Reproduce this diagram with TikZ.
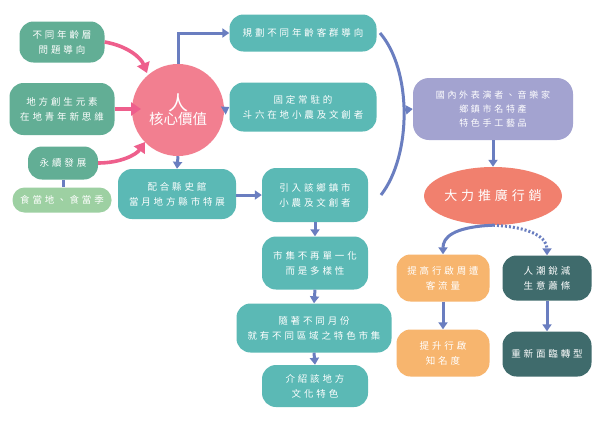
\documentclass[tikz,border=0pt]{standalone}
\usepackage{fontspec}
\setmainfont{Noto Sans CJK TC}
\newfontfamily\cjk[LetterSpace=30]{Noto Sans CJK TC}
\newfontfamily\cjkplain{Noto Sans CJK TC}
\usetikzlibrary{arrows.meta,shapes.geometric}
\definecolor{cgreen}{HTML}{62AE95}
\definecolor{clight}{HTML}{9DD0A2}
\definecolor{cteal}{HTML}{5BB9B5}
\definecolor{cpurple}{HTML}{A3A3D0}
\definecolor{cpink}{HTML}{F27F90}
\definecolor{csalmon}{HTML}{F1806E}
\definecolor{corange}{HTML}{F7B56E}
\definecolor{cdark}{HTML}{3F6B6C}
\definecolor{cblue}{HTML}{6A7EC0}
\definecolor{cpinkarrow}{HTML}{EE5F8C}
\tikzset{
  box/.style={rounded corners=14pt, text=white, align=center, inner sep=0pt,
    font=\cjk\fontsize{9.5}{15}\selectfont},
  greenbox/.style={box, fill=cgreen},
  lightbox/.style={box, fill=clight},
  tealbox/.style={box, fill=cteal},
  purplebox/.style={box, fill=cpurple, font=\cjk\fontsize{9}{14}\selectfont},
  orangebox/.style={box, fill=corange},
  darkbox/.style={box, fill=cdark},
  barrow/.style={draw=cblue, line width=3pt, -{Triangle[length=7pt,width=9pt]}},
  bline/.style={draw=cblue, line width=3pt},
  parrow/.style={draw=cpinkarrow, line width=3.6pt, -{Triangle[length=10pt,width=13pt]}},
}
\begin{document}
\begin{tikzpicture}[x=1pt,y=-1pt]
\fill[white] (0,0) rectangle (600,424);
\useasboundingbox (0,0) rectangle (600,424);

% left column
\node[greenbox, minimum width=85pt, minimum height=41pt] (age) at (62,42) {不同年齡層\\問題導向};
\node[greenbox, minimum width=105pt, minimum height=52pt] (local) at (62,109) {地方創生元素\\在地青年新思維};
\node[greenbox, minimum width=70pt, minimum height=33pt] (sus) at (63,163) {永續發展};
\node[lightbox, minimum width=99pt, minimum height=25pt, rounded corners=12pt] (food) at (62,200) {食當地、食當季};

% core
\node[circle, fill=cpink, minimum size=92pt, inner sep=0pt, text=white, align=center] (core) at (178,110)
  {{\cjkplain\fontsize{20}{22}\selectfont 人}\\[-1pt]{\cjkplain\fontsize{14.5}{16}\selectfont 核心價值}};

% middle column
\node[tealbox, minimum width=147pt, minimum height=37pt] (plan) at (303,33) {規劃不同年齡客群導向};
\node[tealbox, minimum width=147pt, minimum height=49pt] (fixed) at (303,107) {固定常駐的\\斗六在地小農及文創者};
\node[tealbox, minimum width=118pt, minimum height=50pt] (museum) at (177,194) {配合縣史館\\當月地方縣市特展};
\node[tealbox, minimum width=106pt, minimum height=54pt] (bring) at (315,195) {引入該鄉鎮市\\小農及文創者};
\node[tealbox, minimum width=106pt, minimum height=53pt] (diverse) at (315,263) {市集不再單一化\\而是多樣性};
\node[tealbox, minimum width=155pt, minimum height=49pt] (month) at (314,328) {隨著不同月份\\就有不同區域之特色市集};
\node[tealbox, minimum width=106pt, minimum height=42pt] (culture) at (315,386) {介紹該地方\\文化特色};

% right column
\node[purplebox, minimum width=160pt, minimum height=62pt, rounded corners=16pt] (perf) at (493,109) {國內外表演者、音樂家\\鄉鎮市名特產\\特色手工藝品};
\node[ellipse, fill=csalmon, minimum width=123pt, minimum height=58pt, inner sep=0pt, text=white,
  font=\cjk\fontsize{13}{15}\selectfont] (promo) at (493,196) {大力推廣行銷};
\node[orangebox, minimum width=93pt, minimum height=47pt] (flow) at (443,278) {提高行啟周遭\\客流量};
\node[orangebox, minimum width=93pt, minimum height=47pt] (fame) at (443,353) {提升行啟\\知名度};
\node[darkbox, minimum width=89pt, minimum height=45pt] (drop) at (547,278) {人潮銳減\\生意蕭條};
\node[darkbox, minimum width=89pt, minimum height=45pt] (trans) at (547,354) {重新面臨轉型};

% pink arrows
\draw[parrow] (age.east) .. controls (128,46) and (141,58) .. (147,73);
\draw[parrow] (local.east) -- (141,109);
\draw[parrow] (sus.east) .. controls (120,163) and (136,155) .. (145,142);
\draw[bline] (sus.south) -- (sus.south |- food.north);

% blue arrows
\draw[barrow] (core.north) |- (plan.west);
\draw[barrow] (core.east) -- (fixed.west);
\draw[barrow] (core.south) -- (museum.north);
\draw[barrow] (museum.east |- bring.west) -- (bring.west);
\draw[barrow] (bring.south) -- (diverse.north);
\draw[barrow] (diverse.south) -- (month.north);
\draw[barrow] (month.south) -- (culture.north);

% arc
\coordinate (arcTop) at (380,33);
\coordinate (arcBot) at (381,195);
\coordinate (arcMid) at (404,110);
\draw[bline] (arcTop) .. controls (412,70) and (412,155) .. (arcBot);
\draw[barrow] (arcMid) -- (perf.west);

\draw[barrow] (perf.south) -- (promo.north);
\draw[barrow] (promo.south) .. controls (452,227) and (443,238) .. (flow.north);
\draw[draw=cblue, line width=3pt, dash pattern=on 2pt off 2pt, -{Triangle[length=7pt,width=9pt]}]
  (promo.south) .. controls (532,227) and (547,238) .. (drop.north);
\draw[barrow] (flow.south) -- (fame.north);
\draw[barrow] (drop.south) -- (trans.north);
\end{tikzpicture}
\end{document}
